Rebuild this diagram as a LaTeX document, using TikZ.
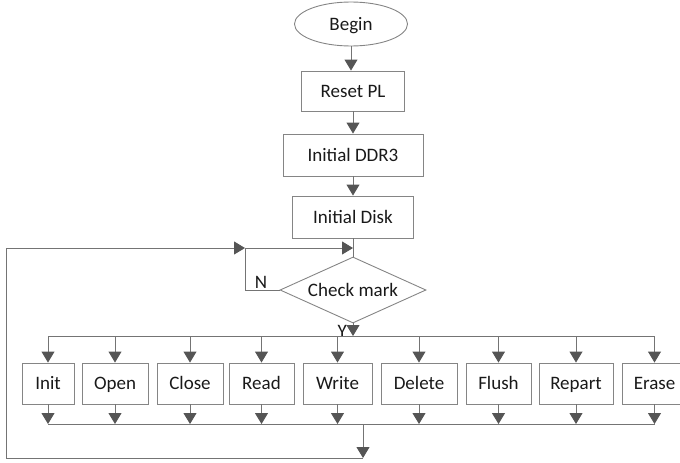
\documentclass[tikz,border=0pt]{standalone}
\usepackage{fontspec}
\setmainfont{Carlito}
\usetikzlibrary{shapes.geometric,arrows.meta}
\definecolor{linegray}{HTML}{747474}
\definecolor{tipgray}{HTML}{555555}
\definecolor{boxgray}{HTML}{858585}

\begin{document}
\begin{tikzpicture}[x=1pt,y=-1pt,
	line/.style={draw=linegray,line width=0.9pt},
	arr/.style={line,-{Triangle[width=13pt,length=11pt,color=tipgray]}},
	box/.style={draw=boxgray,line width=0.9pt,inner sep=0pt,minimum height=41pt,
		text height=16pt,text depth=3.8pt,
		text=black!90,font=\fontsize{19}{21}\selectfont},
	lbl/.style={inner sep=0pt,text=black!90,font=\fontsize{19}{21}\selectfont}]
	\useasboundingbox (0,0) rectangle (680,463);
	% main column
	\node [box,ellipse,minimum width=113pt,minimum height=44pt] (begin) at (351,24) {Begin};
	\node [box,minimum width=103pt,minimum height=40pt] (reset) at (353,91) {Reset PL};
	\node [box,minimum width=140pt,minimum height=42pt] (ddr) at (353,155) {Initial DDR3};
	\node [box,minimum width=121pt,minimum height=42pt] (disk) at (353,217) {Initial Disk};
	\node [box,diamond,aspect=2.4,minimum width=146pt,minimum height=66pt] (check) at (353,290) {Check mark};
	\draw [arr] (begin.south) -- (reset.north -| begin.south);
	\draw [arr] (reset) -- (ddr);
	\draw [arr] (ddr) -- (disk);
	\coordinate (join) at (353,248);
	\coordinate (nturn) at (245,248);
	\draw [line] (disk.south) -- (check.north);
	\draw [line] (check.west) -- (check.west -| nturn) -- (nturn);
	\draw [arr] (nturn) -- (join);
	\node [lbl,anchor=south] (nlbl) at (261,289) {N};
	% command boxes
	\node [box,minimum width=52pt] (init) at (48,383.5) {Init};
	\node [box,minimum width=66pt] (open) at (115,383.5) {Open};
	\node [box,minimum width=66pt] (close) at (190,383.5) {Close};
	\node [box,minimum width=65pt] (read) at (261.5,383.5) {Read};
	\node [box,minimum width=69pt] (write) at (337.5,383.5) {Write};
	\node [box,minimum width=76pt] (delete) at (419,383.5) {Delete};
	\node [box,minimum width=65pt] (flush) at (498.5,383.5) {Flush};
	\node [box,minimum width=74pt] (repart) at (576,383.5) {Repart};
	\node [box,minimum width=64pt] (erase) at (654.5,383.5) {Erase};
	\coordinate (split) at (353,336);
	\coordinate (merge) at (363,424);
	\coordinate (back) at (363,458);
	\draw [arr] (check.south) -- (split);
	\node [lbl,anchor=south east] (ylbl) at (347,338) {Y};
	\draw [line] (init.north |- split) -- (erase.north |- split);
	\draw [arr] (init.north |- split) -- (init.north);
	\draw [arr] (open.north |- split) -- (open.north);
	\draw [arr] (close.north |- split) -- (close.north);
	\draw [arr] (read.north |- split) -- (read.north);
	\draw [arr] (write.north |- split) -- (write.north);
	\draw [arr] (delete.north |- split) -- (delete.north);
	\draw [arr] (flush.north |- split) -- (flush.north);
	\draw [arr] (repart.north |- split) -- (repart.north);
	\draw [arr] (erase.north |- split) -- (erase.north);
	\draw [arr] (init.south) -- (init.south |- merge);
	\draw [arr] (open.south) -- (open.south |- merge);
	\draw [arr] (close.south) -- (close.south |- merge);
	\draw [arr] (read.south) -- (read.south |- merge);
	\draw [arr] (write.south) -- (write.south |- merge);
	\draw [arr] (delete.south) -- (delete.south |- merge);
	\draw [arr] (flush.south) -- (flush.south |- merge);
	\draw [arr] (repart.south) -- (repart.south |- merge);
	\draw [arr] (erase.south) -- (erase.south |- merge);
	\draw [line] (init.south |- merge) -- (erase.south |- merge);
	% loop back
	\draw [arr] (merge) -- (back);
	\draw [arr] (back) -- (6,458) -- (6,248) -- (nturn);
\end{tikzpicture}
\end{document}
